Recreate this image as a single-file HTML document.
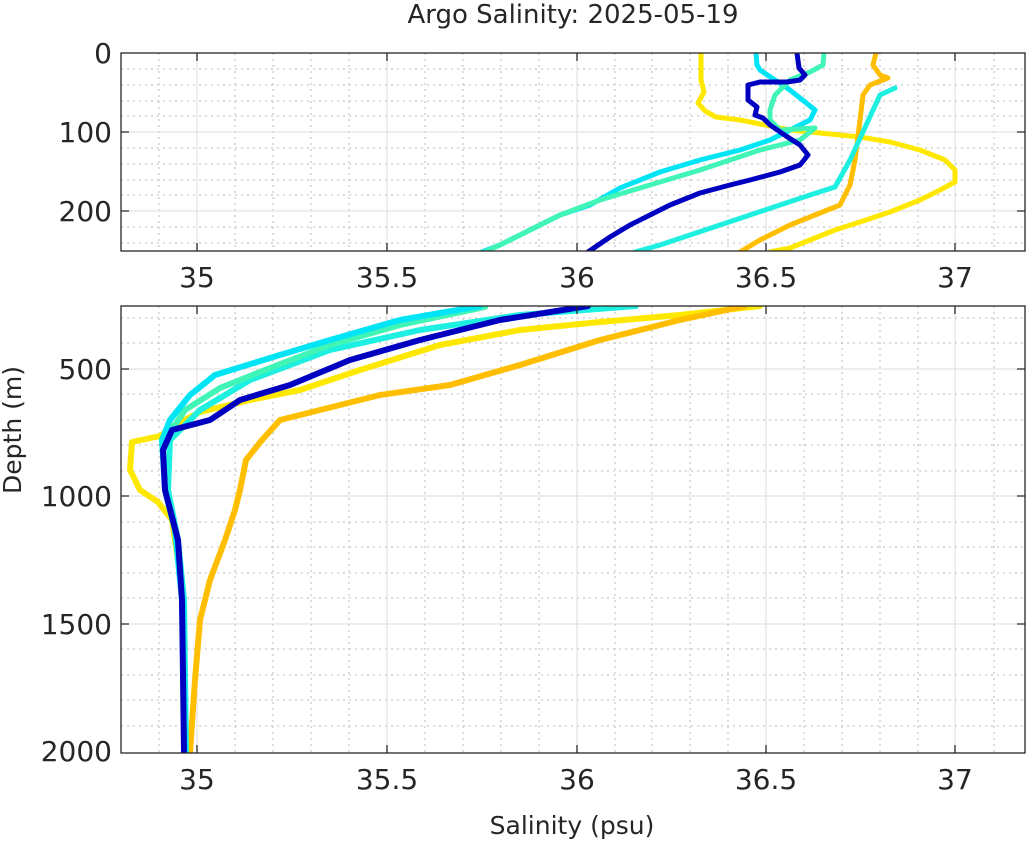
<!DOCTYPE html>
<html><head><meta charset="utf-8"><style>
html,body{margin:0;padding:0;background:#fff;}
svg{display:block;font-family:"DejaVu Sans","Liberation Sans",sans-serif;}
</style></head><body>
<svg width="1029" height="841" viewBox="0 0 1029 841" xmlns="http://www.w3.org/2000/svg">
<defs>
<clipPath id="ct"><rect x="121" y="53" width="904" height="198"/></clipPath>
<clipPath id="cb"><rect x="121" y="306" width="904" height="447"/></clipPath>
</defs>
<rect width="1029" height="841" fill="#fff"/>
<g stroke="#bbb" stroke-width="1" stroke-dasharray="2,4">
<path d="M121 69H1025M121 85H1025M121 101H1025M121 116H1025M121 148H1025M121 164H1025M121 180H1025M121 195H1025M121 227H1025M121 243H1025"/>
<path d="M121 318H1025M121 343H1025M121 394H1025M121 420H1025M121 445H1025M121 471H1025M121 522H1025M121 547H1025M121 573H1025M121 598H1025M121 649H1025M121 675H1025M121 700H1025M121 726H1025"/>
<path d="M159 53V251M235 53V251M273 53V251M311 53V251M349 53V251M425 53V251M463 53V251M501 53V251M539 53V251M615 53V251M652 53V251M690 53V251M728 53V251M804 53V251M842 53V251M880 53V251M918 53V251M994 53V251"/>
<path d="M159 306V753M235 306V753M273 306V753M311 306V753M349 306V753M425 306V753M463 306V753M501 306V753M539 306V753M615 306V753M652 306V753M690 306V753M728 306V753M804 306V753M842 306V753M880 306V753M918 306V753M994 306V753"/>
</g>
<g stroke="#ddd" stroke-width="1">
<path d="M121 132H1025M121 211H1025M197 53V251M387 53V251M577 53V251M766 53V251M955 53V251"/>
<path d="M121 369H1025M121 496H1025M121 624H1025M197 306V753M387 306V753M577 306V753M766 306V753M955 306V753"/>
</g>
<g clip-path="url(#ct)" fill="none" stroke-linecap="round" stroke-linejoin="round" stroke-width="5">
<polyline stroke="#FFE800" points="701,53 701,80 704,92 698,103 705,111 716,117 740,120 760,124 790,130 830,134 860,137 890,142 920,150 945,160 955,170 955,182 940,190 920,200 890,212 860,222 835,230 810,240 790,248 770,252"/>
<polyline stroke="#FFBF00" points="876,53 873,65 880,75 888,78 870,85 863,95 860,120 855,160 850,185 840,205 820,213 790,225 760,240 740,252"/>
<polyline stroke="#1DF0E0" points="895,88 880,95 850,160 835,187 810,195 780,205 750,215 720,225 690,235 660,245 635,252"/>
<polyline stroke="#00E5F5" points="756,53 757,65 760,70 790,90 815,110 810,120 790,130 770,140 740,150 700,160 660,172 620,188 590,205 560,215 530,230 500,245 482,252"/>
<polyline stroke="#40F5B5" points="824,53 823,65 810,72 790,80 775,95 770,110 770,120 780,130 815,128 800,140 760,150 700,170 650,185 600,200 560,215 520,235 485,252"/>
<polyline stroke="#0000C0" points="797,53 799,68 805,75 800,80 787,82 760,82 748,85 748,100 757,107 755,115 763,118 770,125 786,136 800,145 808,155 800,165 780,172 750,180 730,185 700,193 670,205 650,215 630,225 610,237 588,252"/>
</g>
<g clip-path="url(#cb)" fill="none" stroke-linecap="round" stroke-linejoin="round" stroke-width="6">
<polyline stroke="#FFE800" points="760,306 680,315 600,322 520,330 440,345 360,370 300,390 250,400 200,412 175,425 160,436 132,442 130,470 140,490 158,502 172,520 178,560"/>
<polyline stroke="#FFBF00" points="745,306 680,320 600,340 520,365 450,385 380,395 320,410 280,420 262,440 246,460 240,490 235,510 225,540 210,580 200,620 195,680 190,752"/>
<polyline stroke="#1DF0E0" points="636,306 520,315 420,330 330,350 250,380 200,410 170,440 168,490 178,540 184,600 186,752"/>
<polyline stroke="#40F5B5" points="485,307 400,325 330,345 270,368 220,388 185,410 165,440"/>
<polyline stroke="#00E5F5" points="480,306 400,320 330,340 270,358 215,375 190,395 170,420 162,440 165,490 175,530 182,600 185,752"/>
<polyline stroke="#0000C0" points="588,306 500,320 420,340 350,360 290,385 240,400 210,420 172,430 163,450 165,490 178,540 182,600 184,752"/>
</g>
<g fill="none" stroke="#262626" stroke-width="1.3">
<rect x="121" y="53" width="904" height="198"/>
<rect x="121" y="306" width="904" height="447"/>
<path d="M121 132h8M121 211h8M1025 132h-8M1025 211h-8M197 251v-8M387 251v-8M577 251v-8M766 251v-8M955 251v-8M197 53v8M387 53v8M577 53v8M766 53v8M955 53v8"/>
<path d="M121 369h8M121 496h8M121 624h8M1025 369h-8M1025 496h-8M1025 624h-8M197 753v-8M387 753v-8M577 753v-8M766 753v-8M955 753v-8M197 306v8M387 306v8M577 306v8M766 306v8M955 306v8"/>
</g>
<g fill="#262626" font-size="28">
<text x="573" y="23" font-size="26" text-anchor="middle">Argo Salinity: 2025-05-19</text>
<g text-anchor="end">
<text x="112" y="63">0</text><text x="112" y="142">100</text><text x="112" y="221">200</text>
<text x="112" y="379">500</text><text x="112" y="506">1000</text><text x="112" y="634">1500</text><text x="112" y="761">2000</text>
</g>
<g text-anchor="middle">
<text x="197" y="287">35</text><text x="387" y="287">35.5</text><text x="577" y="287">36</text><text x="766" y="287">36.5</text><text x="955" y="287">37</text>
<text x="197" y="789">35</text><text x="387" y="789">35.5</text><text x="577" y="789">36</text><text x="766" y="789">36.5</text><text x="955" y="789">37</text>
<text x="572" y="834" font-size="25">Salinity (psu)</text>
<text transform="translate(21,430) rotate(-90)" font-size="25">Depth (m)</text>
</g>
</g>
</svg>
</body></html>
